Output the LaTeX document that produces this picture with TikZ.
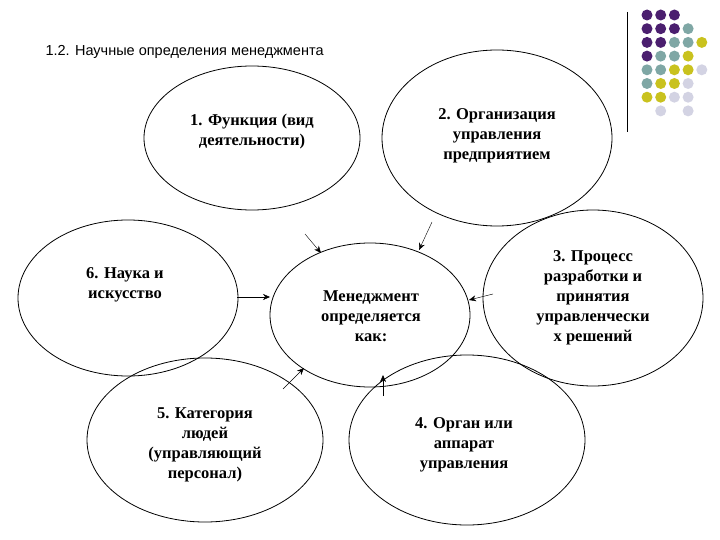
\documentclass[tikz,border=0pt]{standalone}
\usepackage{fontspec}
\setmainfont{Liberation Serif}
\newfontfamily\titlefont{Liberation Sans}
\usetikzlibrary{arrows.meta}
\definecolor{dP}{HTML}{4B1F6F}
\definecolor{dT}{HTML}{7FA7A5}
\definecolor{dY}{HTML}{C9C21E}
\definecolor{dL}{HTML}{D3D3E3}
\begin{document}
\begin{tikzpicture}[x=1pt,y=-1pt,
  ell/.style={draw,thick},
  lbl/.style={align=center,font=\fontsize{16.5}{20}\selectfont\bfseries},
  arr/.style={-{Stealth[length=7pt,width=6pt]},thin},
  dot/.style={circle,inner sep=0pt,minimum size=11pt}]
\useasboundingbox (0,0) rectangle (720,540);
\node[anchor=west,font=\titlefont\fontsize{14.5}{17}\selectfont] (title) at (42,52) {1.2. Научные определения менеджмента};
\draw[thick] (627,12) coordinate (l1) -- (627,132) coordinate (l2);
% dots
\foreach \r/\row in {1/{P,P,P},2/{P,P,P,T},3/{P,P,T,T,Y},4/{P,T,T,Y},5/{T,T,Y,Y,L},6/{T,Y,Y,L},7/{Y,Y,L,L}}{
  \foreach \c [count=\i] in \row {
    \node[dot,fill=d\c] (d\r-\i) at ({647+13.7*(\i-1)},{15+13.7*(\r-1)}) {};
  }}
\node[dot,fill=dL] (d8-2) at (660.7,110.9) {};
\node[dot,fill=dL] (d8-4) at (688.1,110.9) {};
% ellipses
\draw[ell] (252,138) ellipse [x radius=108,y radius=72];
\node[lbl] (n1) at (252,132) {1. Функция (вид\\деятельности)};
\draw[ell] (497,138) ellipse [x radius=115,y radius=88];
\node[lbl] (n2) at (497,136) {2. Организация\\управления\\предприятием};
\draw[ell] (128,298) ellipse [x radius=110,y radius=78];
\node[lbl] (n6) at (125,285) {6. Наука и\\искусство};
\draw[ell] (370,315) ellipse [x radius=100,y radius=72];
\node[lbl] (nc) at (371,316) {Менеджмент\\определяется\\как:};
\draw[ell] (593,298) ellipse [x radius=110,y radius=88];
\node[lbl] (n3) at (593,298) {3. Процесс\\разработки и\\принятия\\управленчески\\х решений};
\draw[ell] (205,440) ellipse [x radius=118,y radius=82];
\node[lbl] (n5) at (205,445) {5. Категория\\людей\\(управляющий\\персонал)};
\draw[ell] (467,440) ellipse [x radius=118,y radius=85];
\node[lbl] (n4) at (464,445) {4. Орган или\\аппарат\\управления};
% arrows
\coordinate (a1) at (305,234); \coordinate (b1) at (321,253);
\coordinate (a2) at (432,222); \coordinate (b2) at (419,250);
\coordinate (a3) at (237,297); \coordinate (b3) at (270,297);
\coordinate (a4) at (493,294); \coordinate (b4) at (469,300);
\coordinate (a5) at (283,389); \coordinate (b5) at (304,368);
\coordinate (a6) at (383,396); \coordinate (b6) at (383,375);
\foreach \k in {1,...,6} \draw[arr] (a\k) -- (b\k);
\end{tikzpicture}
\end{document}
